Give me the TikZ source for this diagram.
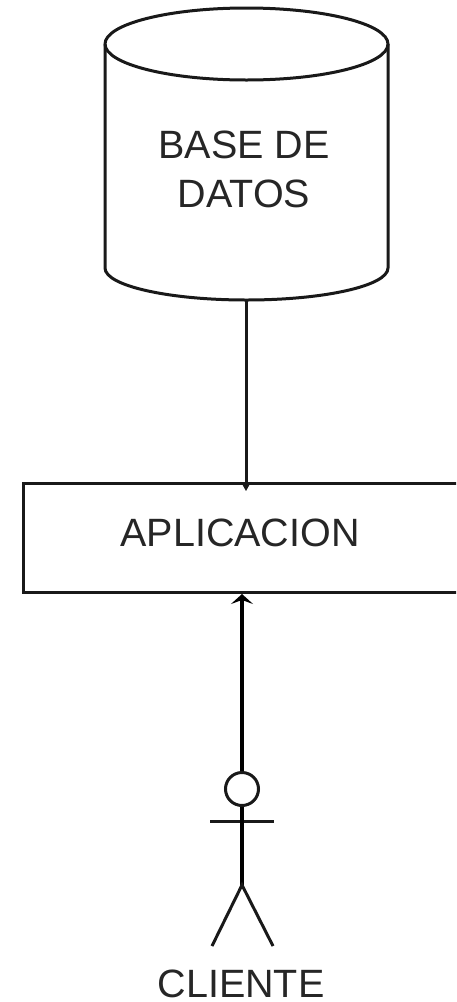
\documentclass[tikz,border=0pt]{standalone}
\usepackage{fontspec}
\setmainfont{Liberation Sans}
\usetikzlibrary{arrows.meta}
\tikzset{
  lbl/.style={font=\fontsize{39.5}{49}\selectfont, text=black!85, align=center, inner sep=0pt},
  ln/.style={draw=black!90, line width=3pt},
  heavy/.style={draw=black, line width=3.6pt},
  conn/.style={heavy, -{Stealth[length=10pt,width=22pt,inset=4pt]}}
}
\begin{document}
\begin{tikzpicture}[x=1pt,y=-1pt]
\clip (0,0) rectangle (456,1002);
\useasboundingbox (0,0) rectangle (456,1002);
\fill[white] (0,0) rectangle (456,1002);
% database
\draw[ln] (105,44) arc[start angle=180,end angle=0,x radius=141.5pt,y radius=36pt]
          arc[start angle=0,end angle=-180,x radius=141.5pt,y radius=36pt];
\draw[ln] (105,44) -- (105,268) arc[start angle=180,end angle=360,x radius=141.5pt,y radius=32pt] -- (388,44);
\node[lbl, minimum width=283pt, minimum height=220pt] (db) at (246.5,190) {};
\node[lbl] (dbtext) at (244,169) {BASE DE\\DATOS};
\coordinate (dbbottom) at (246,300);
% application
\node[ln, draw, minimum width=444pt, minimum height=109pt, inner sep=0pt] (app) at (245,538) {};
\node[lbl] (apptext) at (240,533) {APLICACION};
% actor
\node[ln, draw, circle, minimum size=33pt, inner sep=0pt] (head) at (242,789) {};
\coordinate (arml) at (210,821.5);
\coordinate (armr) at (274,821.5);
\coordinate (hip) at (242,885);
\coordinate (legl) at (212,946);
\coordinate (legr) at (273,946);
\draw[ln] (arml) -- (armr);
\draw[heavy] (head.south) -- (hip);
\draw[ln] (legl) -- (hip) -- (legr);
\node[lbl] (actor) at (241,984) {CLIENTE};
% connectors
\draw[ln, -{Stealth[length=9pt,width=10pt]}] (dbbottom) -- (246,491);
\draw[conn] (head.north) -- (242,594);
\end{tikzpicture}
\end{document}
